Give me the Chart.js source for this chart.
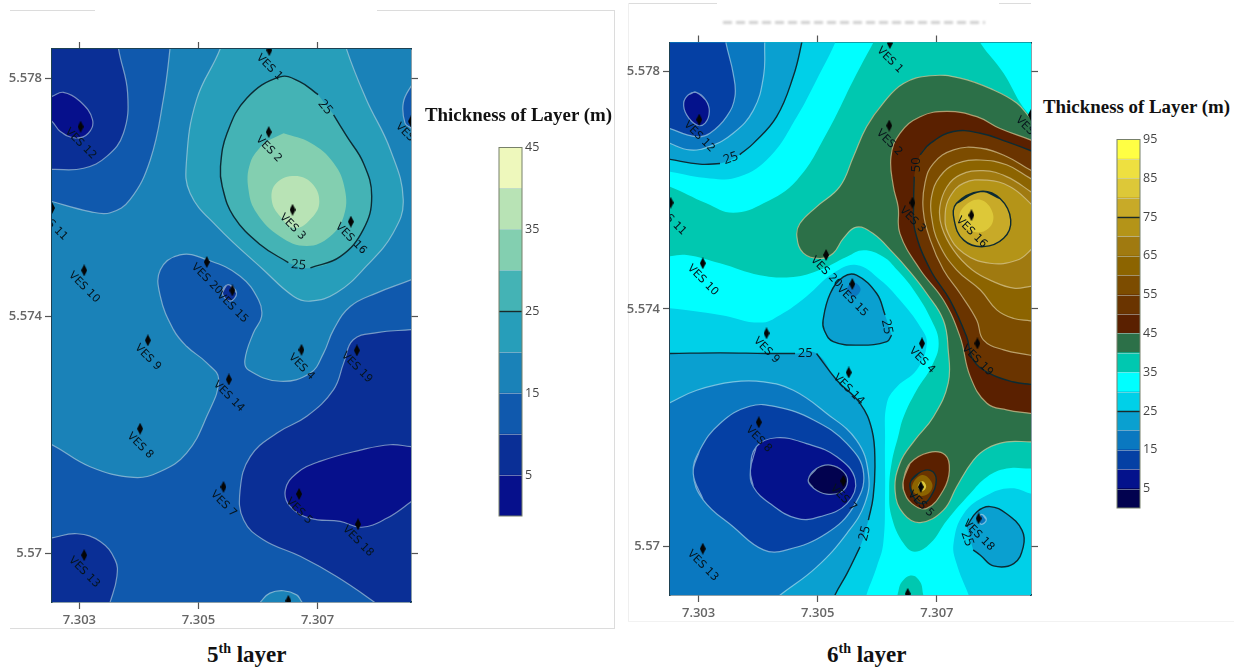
<!DOCTYPE html>
<html>
<head>
<meta charset="utf-8">
<title>Thickness of layers</title>
<script src="https://cdn.jsdelivr.net/npm/chart.js@4/dist/chart.umd.min.js"></script>
<style>
html, body { margin: 0; padding: 0; background: #fff; }
body { width: 1234px; height: 667px; position: relative; overflow: hidden; }
canvas { position: absolute; filter: blur(0.55px); }
.rule { position: absolute; background: #dcdcdc; }
.head { position: absolute; font: bold 18.9px "Liberation Serif", serif; color: #111; white-space: nowrap; }
.caption { position: absolute; font: bold 23px "Liberation Serif", serif; color: #111; white-space: nowrap; }
.caption sup { font-size: 14px; line-height: 0; }
.cut { position: absolute; left: 723px; top: 21px; width: 262px; height: 3px; filter: blur(0.8px);
  background: repeating-linear-gradient(90deg, #d0d0d0 0 9px, #fff 9px 13px); }
</style>
</head>
<body>
<div class="rule" style="left:10px;top:10px;width:85px;height:1px"></div>
<div class="rule" style="left:377px;top:10px;width:238px;height:1px"></div>
<div class="rule" style="left:10px;top:628px;width:605px;height:1px"></div>
<div class="rule" style="left:614px;top:10px;width:1px;height:619px"></div>
<div class="rule" style="left:628px;top:3px;width:89px;height:1px"></div>
<div class="rule" style="left:999px;top:3px;width:32px;height:1px"></div>
<div class="rule" style="left:628px;top:3px;width:1px;height:618px;background:#efefef"></div>
<div class="rule" style="left:628px;top:621px;width:606px;height:1px;background:#f2f2f2"></div>
<div class="cut"></div>

<canvas id="mapFive" width="430" height="600" style="left:0;top:30px"></canvas>
<canvas id="barFive" width="70" height="390" style="left:495px;top:137px"></canvas>
<canvas id="mapSix" width="420" height="600" style="left:620px;top:24px"></canvas>
<canvas id="barSix" width="70" height="390" style="left:1113px;top:129px"></canvas>

<div class="head" style="left:425px;top:104px">Thickness of Layer (m)</div>
<div class="head" style="left:1043px;top:96px">Thickness of Layer (m)</div>
<div class="caption" style="left:207px;top:642px">5<sup>th</sup> layer</div>
<div class="caption" style="left:827px;top:642px">6<sup>th</sup> layer</div>

<script>
const lonTicks = [7.303, 7.305, 7.307];
const latTicks = [5.57, 5.574, 5.578];

const legendFiveTicks = [5, 15, 25, 35, 45];
const legendSixTicks = [5, 15, 25, 35, 45, 55, 65, 75, 85, 95];
const bandsFive = ['#06108c', '#0a2f96', '#1059ad', '#1a82b8', '#279eba', '#44b3b5', '#83cfb0', '#b8e3b5', '#eef8bc'];
const bandsSix = ['#02024f', '#04128c', '#0540a4', '#0a78c0', '#0aa0d0', '#00d0e8', '#00ffff', '#00c8b0', '#2c7048', '#5a2000',
    '#6a3400', '#7c4c00', '#8c6400', '#a07a10', '#b49418', '#c8aa28', '#ddc838', '#eee040', '#ffff44'];

const vesNames = ['VES 1', 'VES 2', 'VES 3', 'VES 16', 'VES 12', 'VES 11', 'VES 10', 'VES 20', 'VES 15', 'VES 9',
    'VES 4', 'VES 19', 'VES 14', 'VES 8', 'VES 7', 'VES 5', 'VES 18', 'VES 13', 'VES 6', 'VES 17'];
const vesFive = [[7.30619,5.57848],[7.30618,5.57710],[7.30658,5.57579],[7.30756,5.57559],[7.30302,5.57719],[7.30254,5.57582],[7.30308,5.57477],[7.30514,5.57491],[7.30557,5.57443],[7.30415,5.57359],
    [7.30673,5.57343],[7.30766,5.57342],[7.30551,5.57293],[7.30402,5.57210],[7.30542,5.57112],[7.30669,5.57100],[7.30768,5.57049],[7.30308,5.56997],[7.30651,5.56920],[7.30857,5.57728]];
const vesSix = [[7.30621,5.57848],[7.30620,5.57709],[7.30659,5.57579],[7.30758,5.57558],[7.30301,5.57719],[7.30253,5.57579],[7.30307,5.57477],[7.30514,5.57491],[7.30558,5.57442],[7.30414,5.57359],
    [7.30675,5.57342],[7.30768,5.57342],[7.30552,5.57293],[7.30401,5.57209],[7.30543,5.57110],[7.30673,5.57100],[7.30770,5.57047],[7.30307,5.56996],[7.30651,5.56920],[7.30858,5.57727]];

// labels written on the contour lines: lon, lat, value, angle
const tagsFive = [[7.30713,5.57752,'25',50],[7.30668,5.57486,'25',5]];
const tagsSix = [[7.30354,5.57654,'25',-20],[7.30665,5.57643,'50',-90],[7.30616,5.57370,'25',78],[7.30479,5.57325,'25',0],[7.30579,5.57022,'25',-75],[7.30751,5.57013,'25',70]];

// 5th layer contours
const frameFive = [[7.3023,5.5690],[7.3023,5.5787],[7.3088,5.5787],[7.3088,5.5690]];
const five15 = [[7.30240,5.57186],[7.30254,5.57183],[7.30318,5.57146],[7.30391,5.57128],[7.30436,5.57138],[7.30480,5.57169],[7.30514,5.57231],[7.30534,5.57293],[7.30514,5.57321],[7.30480,5.57349],[7.30458,5.57377],[7.30436,5.57433],[7.30436,5.57478],[7.30469,5.57503],[7.30514,5.57495],[7.30570,5.57467],[7.30601,5.57427],[7.30606,5.57399],[7.30592,5.57371],[7.30578,5.57326],[7.30584,5.57309],[7.30637,5.57290],[7.30688,5.57304],[7.30710,5.57337],[7.30727,5.57377],[7.30755,5.57416],[7.30800,5.57439],[7.30857,5.57461],[7.30868,5.57467],[7.30868,5.57865],[7.30452,5.57865],[7.30452,5.57849],[7.30441,5.57765],[7.30419,5.57663],[7.30385,5.57596],[7.30352,5.57574],[7.30318,5.57576],[7.30254,5.57593],[7.30240,5.57598]];
const five20 = [[7.30536,5.57865],[7.30536,5.57849],[7.30497,5.57765],[7.30480,5.57663],[7.30486,5.57607],[7.30531,5.57551],[7.30609,5.57478],[7.30660,5.57433],[7.30688,5.57425],[7.30732,5.57439],[7.30782,5.57484],[7.30827,5.57540],[7.30844,5.57596],[7.30822,5.57681],[7.30782,5.57765],[7.30749,5.57849],[7.30749,5.57865]];
const five25 = [[7.30727,5.57739],[7.30749,5.57703],[7.30777,5.57658],[7.30791,5.57602],[7.30777,5.57546],[7.30738,5.57500],[7.30688,5.57481],null,[7.30651,5.57490],[7.30604,5.57520],[7.30559,5.57568],[7.30540,5.57618],[7.30537,5.57652],[7.30548,5.57708],[7.30581,5.57767],[7.30637,5.57803],[7.30670,5.57795],[7.30701,5.57773]];
const five30 = [[7.30643,5.57708],[7.30688,5.57692],[7.30727,5.57658],[7.30746,5.57613],[7.30744,5.57568],[7.30721,5.57534],[7.30682,5.57518],[7.30637,5.57534],[7.30598,5.57573],[7.30584,5.57613],[7.30587,5.57658],[7.30609,5.57692]];
const five35 = [[7.30662,5.57636],[7.30690,5.57624],[7.30703,5.57593],[7.30690,5.57565],[7.30662,5.57548],[7.30637,5.57568],[7.30623,5.57596],[7.30631,5.57624]];
const fiveTopLeft5 = [[7.30366,5.57865],[7.30366,5.57849],[7.30381,5.57776],[7.30374,5.57708],[7.30346,5.57669],[7.30307,5.57649],[7.30254,5.57647],[7.30240,5.57647],[7.30240,5.57865]];
const fiveTopLeft0 = [[7.30240,5.57765],[7.30254,5.57770],[7.30273,5.57777],[7.30301,5.57762],[7.30322,5.57731],[7.30315,5.57708],[7.30293,5.57700],[7.30268,5.57711],[7.30254,5.57728],[7.30240,5.57736]];
const fiveEdge10 = [[7.30867,5.57798],[7.30857,5.57787],[7.30844,5.57759],[7.30847,5.57725],[7.30857,5.57717],[7.30867,5.57711]];
const fiveMid5 = [[7.30550,5.57453],[7.30564,5.57439],[7.30553,5.57425],[7.30540,5.57439]];
const fiveLow5 = [[7.30867,5.57378],[7.30857,5.57377],[7.30800,5.57372],[7.30760,5.57360],[7.30744,5.57321],[7.30727,5.57276],[7.30682,5.57231],[7.30632,5.57203],[7.30587,5.57163],[7.30570,5.57107],[7.30576,5.57056],[7.30609,5.57023],[7.30671,5.56995],[7.30732,5.56961],[7.30794,5.56919],[7.30811,5.56905],[7.30867,5.56905]];
const fiveLow0 = [[7.30867,5.57180],[7.30857,5.57180],[7.30822,5.57183],[7.30772,5.57174],[7.30704,5.57155],[7.30665,5.57135],[7.30646,5.57107],[7.30654,5.57079],[7.30688,5.57059],[7.30738,5.57054],[7.30774,5.57044],[7.30816,5.57059],[7.30857,5.57087],[7.30867,5.57096]];
const fiveCorner5 = [[7.30240,5.57023],[7.30254,5.57026],[7.30296,5.57033],[7.30335,5.57020],[7.30360,5.56989],[7.30363,5.56961],[7.30352,5.56919],[7.30346,5.56905],[7.30240,5.56905]];
const fiveFoot15 = [[7.30601,5.56913],[7.30605,5.56919],[7.30620,5.56933],[7.30643,5.56937],[7.30665,5.56930],[7.30673,5.56919],[7.30677,5.56913]];

// 6th layer contours
const frameSix = [[7.3023,5.5690],[7.3023,5.5787],[7.3088,5.5787],[7.3088,5.5690]];
const sixTeal = [[7.30593,5.57856],[7.30773,5.57856],[7.30773,5.57848],[7.30812,5.57797],[7.30840,5.57747],[7.30858,5.57724],[7.30868,5.57713],[7.30868,5.57131],[7.30857,5.57131],[7.30817,5.57131],[7.30784,5.57117],[7.30756,5.57089],[7.30717,5.57044],[7.30689,5.57005],[7.30663,5.56991],[7.30644,5.57005],[7.30624,5.57050],[7.30620,5.57095],[7.30624,5.57140],[7.30635,5.57185],[7.30644,5.57218],[7.30666,5.57263],[7.30691,5.57303],[7.30703,5.57342],[7.30691,5.57381],[7.30661,5.57432],[7.30633,5.57466],[7.30610,5.57488],[7.30577,5.57499],[7.30549,5.57488],[7.30504,5.57466],[7.30459,5.57454],[7.30403,5.57457],[7.30336,5.57477],[7.30280,5.57491],[7.30252,5.57489],[7.30241,5.57488],[7.30241,5.57606],[7.30252,5.57606],[7.30313,5.57578],[7.30358,5.57562],[7.30409,5.57578],[7.30465,5.57617],[7.30515,5.57696],[7.30560,5.57786],[7.30593,5.57848]];
const sixGreen = [[7.30868,5.57716],[7.30858,5.57721],[7.30834,5.57747],[7.30795,5.57769],[7.30739,5.57789],[7.30689,5.57793],[7.30644,5.57780],[7.30610,5.57747],[7.30582,5.57707],[7.30560,5.57657],[7.30537,5.57606],[7.30498,5.57572],[7.30470,5.57544],[7.30465,5.57522],[7.30476,5.57494],[7.30504,5.57485],[7.30526,5.57494],[7.30543,5.57519],[7.30565,5.57538],[7.30593,5.57527],[7.30627,5.57494],[7.30652,5.57466],[7.30683,5.57426],[7.30711,5.57381],[7.30719,5.57331],[7.30719,5.57275],[7.30694,5.57218],[7.30663,5.57179],[7.30638,5.57140],[7.30630,5.57092],[7.30644,5.57055],[7.30672,5.57040],[7.30711,5.57061],[7.30733,5.57100],[7.30761,5.57145],[7.30784,5.57165],[7.30817,5.57176],[7.30857,5.57176],[7.30868,5.57176]];
const six45 = [[7.30868,5.57680],[7.30857,5.57685],[7.30806,5.57704],[7.30767,5.57724],[7.30717,5.57733],[7.30672,5.57724],[7.30638,5.57696],[7.30623,5.57657],[7.30627,5.57606],[7.30635,5.57572],[7.30638,5.57527],[7.30672,5.57466],[7.30711,5.57415],[7.30739,5.57353],[7.30756,5.57286],[7.30784,5.57241],[7.30817,5.57230],[7.30857,5.57224],[7.30868,5.57223]];
const six50 = [[7.30868,5.57663],[7.30857,5.57667],[7.30817,5.57682],[7.30773,5.57696],[7.30728,5.57699],[7.30689,5.57679],[7.30672,5.57660],null,[7.30662,5.57623],[7.30661,5.57578],[7.30663,5.57533],[7.30689,5.57466],[7.30722,5.57415],[7.30750,5.57353],[7.30761,5.57314],[7.30789,5.57291],[7.30829,5.57277],[7.30857,5.57273],[7.30868,5.57272]];
const six55 = [[7.30868,5.57629],[7.30857,5.57634],[7.30817,5.57657],[7.30773,5.57671],[7.30728,5.57668],[7.30694,5.57645],[7.30680,5.57612],[7.30677,5.57567],[7.30689,5.57516],[7.30711,5.57466],[7.30739,5.57426],[7.30767,5.57381],[7.30778,5.57348],[7.30812,5.57331],[7.30857,5.57322],[7.30868,5.57319]];
const six60 = [[7.30868,5.57615],[7.30857,5.57620],[7.30817,5.57643],[7.30773,5.57651],[7.30733,5.57645],[7.30705,5.57623],[7.30691,5.57589],[7.30691,5.57556],[7.30703,5.57511],[7.30733,5.57466],[7.30773,5.57432],[7.30801,5.57398],[7.30829,5.57384],[7.30857,5.57380],[7.30868,5.57378]];
const six65 = [[7.30868,5.57589],[7.30857,5.57598],[7.30817,5.57623],[7.30778,5.57633],[7.30739,5.57626],[7.30717,5.57606],[7.30705,5.57572],[7.30708,5.57539],[7.30728,5.57499],[7.30759,5.57466],[7.30795,5.57446],[7.30829,5.57435],[7.30857,5.57438],[7.30868,5.57440]];
const six70 = [[7.30868,5.57564],[7.30857,5.57578],[7.30823,5.57606],[7.30784,5.57617],[7.30745,5.57612],[7.30722,5.57589],[7.30714,5.57561],[7.30719,5.57527],[7.30745,5.57494],[7.30789,5.57477],[7.30834,5.57482],[7.30857,5.57499],[7.30868,5.57516]];
const six75 = [[7.30773,5.57598],[7.30806,5.57586],[7.30824,5.57550],[7.30812,5.57519],[7.30778,5.57505],[7.30745,5.57516],[7.30729,5.57550],[7.30733,5.57578]];
const six80 = [[7.30773,5.57584],[7.30794,5.57561],[7.30787,5.57536],[7.30761,5.57530],[7.30739,5.57550],[7.30745,5.57572]];
const sixPeak45 = [[7.30644,5.57112],[7.30655,5.57140],[7.30686,5.57158],[7.30714,5.57154],[7.30721,5.57128],[7.30711,5.57095],[7.30683,5.57064],[7.30658,5.57072],[7.30644,5.57095]];
const sixPeak50 = [[7.30655,5.57106],[7.30669,5.57123],[7.30689,5.57128],[7.30699,5.57112],[7.30689,5.57083],[7.30675,5.57072],[7.30661,5.57083]];
const sixPeak60 = [[7.30675,5.57120],[7.30692,5.57106],[7.30686,5.57089],[7.30669,5.57086],[7.30658,5.57100]];
const sixPeak75 = [[7.30675,5.57110],[7.30682,5.57101],[7.30675,5.57093],[7.30668,5.57101]];
const sixTop25 = [[7.30529,5.57856],[7.30529,5.57848],[7.30498,5.57786],[7.30465,5.57724],[7.30420,5.57657],[7.30369,5.57623],[7.30319,5.57620],[7.30252,5.57631],[7.30241,5.57634],[7.30241,5.57856]];
const sixTop20 = [[7.30473,5.57856],[7.30473,5.57848],[7.30459,5.57792],[7.30431,5.57724],[7.30392,5.57679],[7.30369,5.57660],null,[7.30336,5.57645],[7.30302,5.57644],[7.30252,5.57652],[7.30241,5.57654],[7.30241,5.57856]];
const sixTop15 = [[7.30411,5.57856],[7.30411,5.57848],[7.30409,5.57792],[7.30392,5.57735],[7.30358,5.57696],[7.30319,5.57674],[7.30285,5.57668],[7.30252,5.57679],[7.30241,5.57685],[7.30241,5.57856]];
const sixTop10 = [[7.30346,5.57856],[7.30346,5.57848],[7.30358,5.57797],[7.30361,5.57758],[7.30347,5.57724],[7.30319,5.57696],[7.30297,5.57690],[7.30252,5.57704],[7.30241,5.57710],[7.30241,5.57856]];
const sixTop5 = [[7.30296,5.57765],[7.30312,5.57752],[7.30318,5.57733],[7.30311,5.57713],[7.30297,5.57710],[7.30280,5.57727],[7.30275,5.57747],[7.30283,5.57761]];
const sixLow25 = [[7.30241,5.57401],[7.30252,5.57401],[7.30336,5.57390],[7.30403,5.57377],[7.30437,5.57390],[7.30481,5.57421],[7.30526,5.57460],[7.30565,5.57474],[7.30605,5.57449],[7.30638,5.57415],[7.30672,5.57370],[7.30683,5.57342],[7.30666,5.57297],[7.30633,5.57269],[7.30616,5.57241],[7.30613,5.57179],[7.30613,5.57089],[7.30610,5.57005],[7.30599,5.56965],[7.30582,5.56919],[7.30578,5.56904],[7.30241,5.56904]];
const sixMid20 = [[7.30613,5.57390],[7.30599,5.57426],[7.30565,5.57457],[7.30543,5.57454],[7.30521,5.57426],[7.30509,5.57381],[7.30511,5.57364],[7.30526,5.57345],[7.30571,5.57339],[7.30616,5.57345],[7.30624,5.57356]];
const sixMid15 = [[7.30560,5.57445],[7.30572,5.57433],[7.30560,5.57420],[7.30549,5.57433]];
const sixLow20 = [[7.30241,5.57325],[7.30252,5.57325],[7.30336,5.57326],[7.30414,5.57325],[7.30462,5.57325],null,[7.30498,5.57325],[7.30532,5.57280],[7.30571,5.57241],[7.30591,5.57196],[7.30596,5.57140],[7.30593,5.57083],[7.30585,5.57044],null,[7.30571,5.56999],[7.30549,5.56954],[7.30529,5.56918],[7.30526,5.56904],[7.30241,5.56904]];
const sixLow15 = [[7.30241,5.57236],[7.30252,5.57242],[7.30297,5.57263],[7.30358,5.57277],[7.30409,5.57277],[7.30459,5.57263],[7.30515,5.57224],[7.30565,5.57179],[7.30585,5.57123],[7.30579,5.57072],[7.30549,5.57022],[7.30498,5.56965],[7.30437,5.56918],[7.30420,5.56904],[7.30241,5.56904]];
const sixLow10 = [[7.30291,5.57123],[7.30302,5.57162],[7.30336,5.57207],[7.30386,5.57236],[7.30431,5.57235],[7.30493,5.57213],[7.30549,5.57173],[7.30577,5.57123],[7.30560,5.57067],[7.30515,5.57022],[7.30448,5.56994],[7.30409,5.56994],[7.30358,5.57033],[7.30308,5.57078]];
const sixLow5 = [[7.30387,5.57128],[7.30397,5.57168],[7.30431,5.57183],[7.30481,5.57173],[7.30532,5.57151],[7.30563,5.57112],[7.30549,5.57072],[7.30504,5.57050],[7.30465,5.57047],[7.30420,5.57072],[7.30392,5.57100]];
const sixLow0 = [[7.30484,5.57112],[7.30498,5.57131],[7.30521,5.57137],[7.30543,5.57126],[7.30550,5.57109],[7.30540,5.57092],[7.30515,5.57088],[7.30493,5.57098]];
const sixCorner25 = [[7.30753,5.56919],[7.30733,5.56971],[7.30728,5.57005],[7.30745,5.57055],[7.30784,5.57086],[7.30823,5.57098],[7.30857,5.57089],[7.30868,5.57083],[7.30868,5.56904],[7.30756,5.56904]];
const sixCorner20 = [[7.30750,5.57033],[7.30767,5.57058],[7.30789,5.57067],[7.30817,5.57055],[7.30843,5.57027],[7.30845,5.56999],[7.30829,5.56971],[7.30795,5.56967],[7.30773,5.56985],[7.30761,5.56994]];
const sixCorner15 = [[7.30775,5.57054],[7.30783,5.57045],[7.30775,5.57037],[7.30770,5.57045]];
const sixFoot35 = [[7.30634,5.56919],[7.30641,5.56940],[7.30658,5.56951],[7.30672,5.56940],[7.30677,5.56919],[7.30680,5.56904],[7.30633,5.56904]];

const paleLine = 'rgba(190,215,225,0.6)';
const darkLine = '#0c2b33';
const tanLine = 'rgba(215,200,150,0.7)';
const skyLine = 'rgba(190,230,240,0.6)';

// draw order is bottom to top: points, band index, line colour, closed loop?
const regionsFive = [
    [frameFive, 2, null],
    [five15, 3, paleLine], [five20, 4, paleLine], [five25, 5, darkLine], [five30, 6, null], [five35, 7, null, true],
    [fiveTopLeft5, 1, paleLine], [fiveTopLeft0, 0, paleLine], [fiveEdge10, 2, paleLine], [fiveMid5, 1, paleLine, true],
    [fiveLow5, 1, paleLine], [fiveLow0, 0, paleLine], [fiveCorner5, 1, paleLine], [fiveFoot15, 3, paleLine]
];
const regionsSix = [
    [frameSix, 6, null],
    [sixTeal, 7, null], [sixGreen, 8, tanLine], [six45, 9, tanLine], [six50, 10, darkLine], [six55, 11, tanLine], [six60, 12, tanLine],
    [six65, 13, tanLine], [six70, 14, tanLine], [six75, 15, darkLine, true], [six80, 16, null, true],
    [sixPeak45, 9, tanLine, true], [sixPeak50, 10, darkLine, true], [sixPeak60, 12, null, true], [sixPeak75, 16, null, true],
    [sixTop25, 5, null], [sixTop20, 4, darkLine], [sixTop15, 3, skyLine], [sixTop10, 2, skyLine], [sixTop5, 1, skyLine, true],
    [sixLow25, 5, null], [sixMid20, 4, darkLine], [sixMid15, 3, null, true], [sixLow20, 4, darkLine], [sixLow15, 3, skyLine],
    [sixLow10, 2, skyLine, true], [sixLow5, 1, skyLine, true], [sixLow0, 0, skyLine, true],
    [sixCorner25, 5, null], [sixCorner20, 4, darkLine], [sixCorner15, 3, skyLine, true], [sixFoot35, 7, null]
];

const diamond = document.createElement('canvas');
diamond.width = 6;
diamond.height = 12;
const dc = diamond.getContext('2d');
dc.fillStyle = '#050505';
dc.beginPath();
dc.moveTo(3, 0); dc.lineTo(6, 6); dc.lineTo(3, 12); dc.lineTo(0, 6);
dc.closePath();
dc.fill();

function toPoint(p) {
    return p ? {x: p[0], y: p[1]} : {x: null, y: null};
}

function regionDatasets(regions, bands) {
    let sets = [];
    regions.forEach((r) => {
        let pts = r[0];
        if (r[3]) {
            pts = [pts[pts.length - 1], ...pts, pts[0], pts[1]];
        }
        sets.push({
            data: pts.filter(p => p).map(toPoint),
            showLine: true, fill: 'shape', backgroundColor: bands[r[1]], borderWidth: 0,
            pointRadius: 0, tension: 0.42, capBezierPoints: false, clip: 0
        });
        if (r[2]) {
            sets.push({
                data: pts.map(toPoint),
                showLine: true, fill: false, borderColor: r[2], borderWidth: r[2] === darkLine ? 1.4 : 1.2,
                pointRadius: 0, tension: 0.42, capBezierPoints: false, clip: 0
            });
        }
    });
    // first dataset ends up on top in Chart.js, so order by position
    sets.forEach((s, i) => { s.order = sets.length - i + 1; });
    return sets;
}

const labelPlugin = {
    id: 'mapLabels',
    afterDatasetsDraw(chart, args, opts) {
        const {ctx, chartArea: a, scales} = chart;
        ctx.save();
        ctx.beginPath();
        ctx.rect(a.left, a.top, a.right - a.left, a.bottom - a.top);
        ctx.clip();
        ctx.textAlign = 'center';
        ctx.textBaseline = 'middle';
        ctx.fillStyle = '#06141c';
        ctx.font = '11px "DejaVu Sans"';
        opts.ves.forEach((p, i) => {
            ctx.save();
            ctx.translate(scales.x.getPixelForValue(p[0]), scales.y.getPixelForValue(p[1]) + 17);
            ctx.rotate(Math.PI / 4);
            ctx.fillText(vesNames[i], 0, 0);
            ctx.restore();
        });
        ctx.font = '13px "Open Sans"';
        opts.tags.forEach((t) => {
            ctx.save();
            ctx.translate(scales.x.getPixelForValue(t[0]), scales.y.getPixelForValue(t[1]));
            ctx.rotate(t[3] * Math.PI / 180);
            ctx.fillText(t[2], 0, 0);
            ctx.restore();
        });
        ctx.restore();
    }
};

function axis(position, min, max, values, size, showLabels) {
    return {
        type: 'linear', position: position, min: min, max: max,
        afterBuildTicks: (s) => { s.ticks = values.map(v => ({value: v})); },
        afterFit: (s) => {
            if (s.isHorizontal()) { s.height = size; } else { s.width = size; }
        },
        border: {color: '#1d4152', width: 1.5},
        grid: {drawOnChartArea: false, tickLength: 7, color: '#555', tickWidth: 1.2},
        ticks: {
            display: showLabels, autoSkip: false, maxRotation: 0, padding: 3, color: '#666',
            font: {family: '"Open Sans"', size: 13, weight: '600'},
            callback: v => String(v)
        }
    };
}

function drawMap(id, regions, bands, ves, tags, box) {
    let datasets = regionDatasets(regions, bands);
    datasets.push({
        data: ves.map(toPoint), showLine: false, order: 0, clip: 0,
        pointStyle: diamond, pointRadius: 6, pointHoverRadius: 6
    });
    new Chart(id, {
        type: 'scatter',
        data: {datasets: datasets},
        plugins: [labelPlugin],
        options: {
            responsive: false,
            animation: false,
            events: [],
            layout: {padding: 0},
            plugins: {legend: {display: false}, tooltip: {enabled: false}, mapLabels: {ves: ves, tags: tags}},
            scales: {
                x: axis('bottom', box.lonMin, box.lonMax, lonTicks, box.bottom, true),
                x2: axis('top', box.lonMin, box.lonMax, lonTicks, box.top, false),
                y: axis('left', box.latMin, box.latMax, latTicks, box.left, true),
                y2: axis('right', box.latMin, box.latMax, latTicks, box.right, false)
            }
        }
    });
}

const legendLines = {
    id: 'legendLines',
    afterDatasetsDraw(chart, args, opts) {
        const {ctx, chartArea: a, scales} = chart;
        ctx.save();
        opts.levels.forEach((v) => {
            const y = Math.round(scales.y.getPixelForValue(v)) + 0.5;
            ctx.strokeStyle = opts.dark.includes(v) ? '#1a2a2a' : 'rgba(200,215,215,0.5)';
            ctx.lineWidth = opts.dark.includes(v) ? 1.4 : 1;
            ctx.beginPath();
            ctx.moveTo(a.left, y);
            ctx.lineTo(a.right, y);
            ctx.stroke();
        });
        ctx.strokeStyle = '#77806a';
        ctx.lineWidth = 1;
        ctx.strokeRect(a.left, a.top, a.right - a.left, a.bottom - a.top);
        ctx.restore();
    }
};

function drawLegend(id, bands, ticks, top, dark) {
    const maxValue = bands.length * 5;
    const levels = bands.map((b, i) => i * 5).slice(1);
    new Chart(id, {
        type: 'bar',
        data: {
            labels: ['m'],
            datasets: bands.map((b, i) => ({
                data: [[i * 5, i * 5 + 5]], backgroundColor: b, borderWidth: 0,
                grouped: false, barPercentage: 1, categoryPercentage: 1
            }))
        },
        plugins: [legendLines],
        options: {
            responsive: false,
            animation: false,
            events: [],
            layout: {padding: {left: 4, top: top, bottom: 390 - top - 369}},
            plugins: {legend: {display: false}, tooltip: {enabled: false}, legendLines: {levels: levels, dark: dark}},
            scales: {
                x: {display: false},
                y: {
                    position: 'right', min: 0, max: maxValue,
                    afterBuildTicks: (s) => { s.ticks = ticks.map(v => ({value: v})); },
                    afterFit: (s) => { s.width = 43; },
                    border: {display: false},
                    grid: {display: false, drawTicks: false},
                    ticks: {padding: 3, color: '#444', font: {family: '"Open Sans"', size: 12.5}, callback: v => String(v)}
                }
            }
        }
    });
}

drawMap('mapFive', regionsFive, bandsFive, vesFive, tagsFive,
    {lonMin: 7.30254, lonMax: 7.30857, latMin: 5.56918, latMax: 5.57850, left: 52, right: 19, top: 19, bottom: 28});
drawMap('mapSix', regionsSix, bandsSix, vesSix, tagsSix,
    {lonMin: 7.30252, lonMax: 7.30858, latMin: 5.56918, latMax: 5.57849, left: 50, right: 9, top: 18.5, bottom: 29});
drawLegend('barFive', bandsFive, legendFiveTicks, 10, [25]);
drawLegend('barSix', bandsSix, legendSixTicks, 10, [25, 75]);
</script>
</body>
</html>
